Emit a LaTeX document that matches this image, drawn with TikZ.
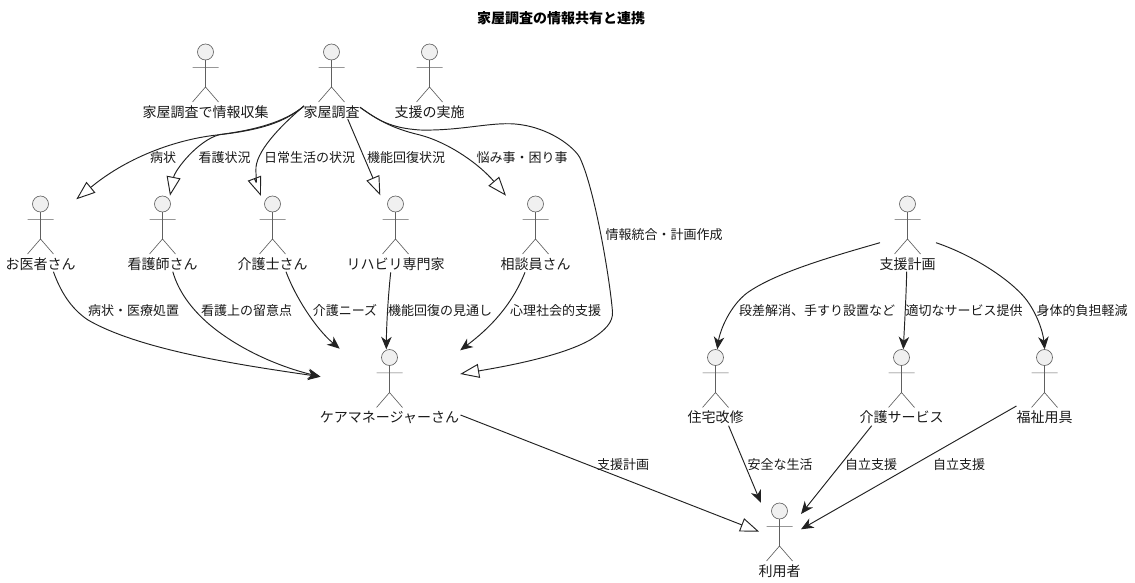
\documentclass[tikz,border=0pt]{standalone}
\usepackage{fontspec}
\usetikzlibrary{arrows.meta}
\setmainfont{Noto Sans CJK JP}
\definecolor{edgeink}{HTML}{222222}
\definecolor{actorink}{HTML}{606060}
\definecolor{actorfill}{HTML}{F0F0F0}
\tikzset{
  x=1pt,y=-1pt,
  flow/.style={draw=edgeink,line width=0.95pt,-{Stealth[length=12.5pt,width=10.5pt,inset=3.8pt,color=edgeink]}},
  feed/.style={draw=edgeink,line width=0.95pt,-{Triangle[open,length=19pt,width=14pt,color=edgeink,line width=0.95pt]}},
  actorlabel/.style={inner sep=0pt,text=black!90,font=\fontsize{14}{15}\selectfont,text height=13pt,text depth=1.6pt},
  edgelabel/.style={inner sep=0pt,text=black!90,font=\fontsize{13}{15}\selectfont,text height=12.4pt,text depth=1.4pt},
  titlelabel/.style={inner sep=0pt,text=black,font=\fontsize{14}{15}\selectfont\bfseries,text height=12pt,text depth=1.6pt},
  actorline/.style={draw=actorink,line width=0.65pt},
  actorhead/.style={draw=actorink,fill=actorfill,line width=0.65pt},
}
% name, head x, head y, label
\newcommand{\personfig}[4]{%
  \draw[actorhead] (#2,#3) circle[radius=8];
  \draw[actorline] (#2,#3+8) -- (#2,#3+35) (#2-13,#3+15.4) -- (#2+13,#3+15.4)
     (#2-13,#3+50) -- (#2,#3+35) -- (#2+13,#3+50);
  \node[actorlabel] (#1) at (#2,#3+59.5) {#4};
}
\begin{document}
\begin{tikzpicture}
\useasboundingbox (0,0) rectangle (1135,583);
\node[titlelabel] (title) at (561,18) {家屋調査の情報共有と連携};

\personfig{collect}{205.5}{52}{家屋調査で情報収集}
\personfig{survey}{331.5}{52}{家屋調査}
\personfig{implement}{429.5}{52}{支援の実施}
\personfig{doctor}{40.5}{204}{お医者さん}
\personfig{nurse}{162.5}{204}{看護師さん}
\personfig{carer}{272.5}{204}{介護士さん}
\personfig{rehab}{395.5}{204}{リハビリ専門家}
\personfig{counsel}{535.5}{204}{相談員さん}
\personfig{plan}{907.5}{204}{支援計画}
\personfig{manager}{389.5}{357.5}{ケアマネージャーさん}
\personfig{housing}{715.5}{357.5}{住宅改修}
\personfig{service}{901.5}{357.5}{介護サービス}
\personfig{equip}{1044.5}{357.5}{福祉用具}
\personfig{user}{779.5}{511}{利用者}

% connector ends
\coordinate (surveyW) at (304,106);
\coordinate (surveyE) at (360,107.3);
\coordinate (surveyS) at (347.7,119);
\coordinate (doctorIn) at (76.3,199.3);
\coordinate (nurseIn) at (170,195.7);
\coordinate (carerIn) at (261,196);
\coordinate (rehabIn) at (380.3,195.3);
\coordinate (counselIn) at (506,195.7);
\coordinate (managerW) at (320.5,376.7);
\coordinate (managerNW) at (339.7,348.7);
\coordinate (managerN) at (386.3,349.3);
\coordinate (managerNE) at (460.2,350.3);
\coordinate (managerE) at (460.2,374);
\coordinate (managerOut) at (460.5,415);
\coordinate (doctorOut) at (53.4,271.7);
\coordinate (nurseOut) at (172.8,271.7);
\coordinate (carerOut) at (286,271.7);
\coordinate (rehabOut) at (390.7,272.3);
\coordinate (counselOut) at (525,272.3);
\coordinate (planW) at (880,242.7);
\coordinate (planS) at (906.7,271.7);
\coordinate (planE) at (936,242.7);
\coordinate (housingIn) at (717.3,349.3);
\coordinate (serviceIn) at (903.3,349.3);
\coordinate (equipIn) at (1044.7,349.3);
\coordinate (housingOut) at (728.6,425.7);
\coordinate (serviceOut) at (871.7,425.7);
\coordinate (equipOut) at (1016.4,406);
\coordinate (userW) at (759.2,531.7);
\coordinate (userNW) at (760.8,502.7);
\coordinate (userNE) at (801,514);
\coordinate (userE) at (801,529.3);

% survey to professionals
\draw[feed] (surveyW) .. controls (285,122) and (262,130) .. (217,135) .. controls (180,139) and (130,155) .. (doctorIn);
\draw[feed] (surveyW) .. controls (285,122) and (255,130) .. (220,134.5) .. controls (198,140) and (175,170) .. (nurseIn);
\draw[feed] (surveyW) .. controls (285,122) and (258,148) .. (256,167) .. controls (255.5,178) and (258,188) .. (carerIn);
\draw[feed] (surveyS) -- (rehabIn);
\draw[feed] (surveyE) .. controls (375,118) and (390,128) .. (420,135) .. controls (450,143) and (480,165) .. (counselIn);
\draw[feed] (surveyE) .. controls (378,120) and (390,128) .. (420,130) .. controls (460,131) and (490,122) .. (515,124) .. controls (550,127) and (575,148) .. (580,158) .. controls (595,190) and (610,280) .. (612.5,312) .. controls (613,322) and (606,330) .. (590,340) .. controls (565,354) and (520,364) .. (managerE);

% professionals to care manager
\draw[flow] (doctorOut) .. controls (60,290) and (70,308) .. (88,320) .. controls (140,350) and (240,365) .. (managerW);
\draw[flow] (nurseOut) .. controls (178,290) and (190,308) .. (210,325) .. controls (240,350) and (280,367) .. (managerW);
\draw[flow] (carerOut) .. controls (295,296) and (315,328) .. (managerNW);
\draw[flow] (rehabOut) .. controls (388,298) and (386.5,325) .. (managerN);
\draw[flow] (counselOut) .. controls (512,305) and (490,328) .. (managerNE);

% plan to measures
\draw[flow] (planW) .. controls (830,257) and (775,273) .. (747,293) .. controls (730,306) and (720,330) .. (housingIn);
\draw[flow] (planS) .. controls (906,300) and (904.5,325) .. (serviceIn);
\draw[flow] (planE) .. controls (975,256) and (1010,280) .. (1025,298) .. controls (1037,313) and (1043,332) .. (equipIn);

% to user
\draw[feed] (managerOut) -- (userW);
\draw[flow] (housingOut) -- (userNW);
\draw[flow] (serviceOut) -- (userNE);
\draw[flow] (equipOut) -- (userE);

% labels
\node[edgelabel] (l1) at (163,157) {病状};
\node[edgelabel] (l2) at (224.5,157) {看護状況};
\node[edgelabel] (l3) at (309.5,157) {日常生活の状況};
\node[edgelabel] (l4) at (406,157) {機能回復状況};
\node[edgelabel] (l5) at (522,157) {悩み事・困り事};
\node[edgelabel] (l6) at (664,234) {情報統合・計画作成};
\node[edgelabel] (l7) at (133.5,310) {病状・医療処置};
\node[edgelabel] (l8) at (246.5,310) {看護上の留意点};
\node[edgelabel] (l9) at (345,310) {介護ニーズ};
\node[edgelabel] (l10) at (440,310) {機能回復の見通し};
\node[edgelabel] (l11) at (555.5,310) {心理社会的支援};
\node[edgelabel] (l12) at (817,310) {段差解消、手すり設置など};
\node[edgelabel] (l13) at (964,310) {適切なサービス提供};
\node[edgelabel] (l14) at (1082,310) {身体的負担軽減};
\node[edgelabel] (l15) at (623,464) {支援計画};
\node[edgelabel] (l16) at (780,464) {安全な生活};
\node[edgelabel] (l17) at (871,464) {自立支援};
\node[edgelabel] (l18) at (959,464) {自立支援};
\end{tikzpicture}
\end{document}
